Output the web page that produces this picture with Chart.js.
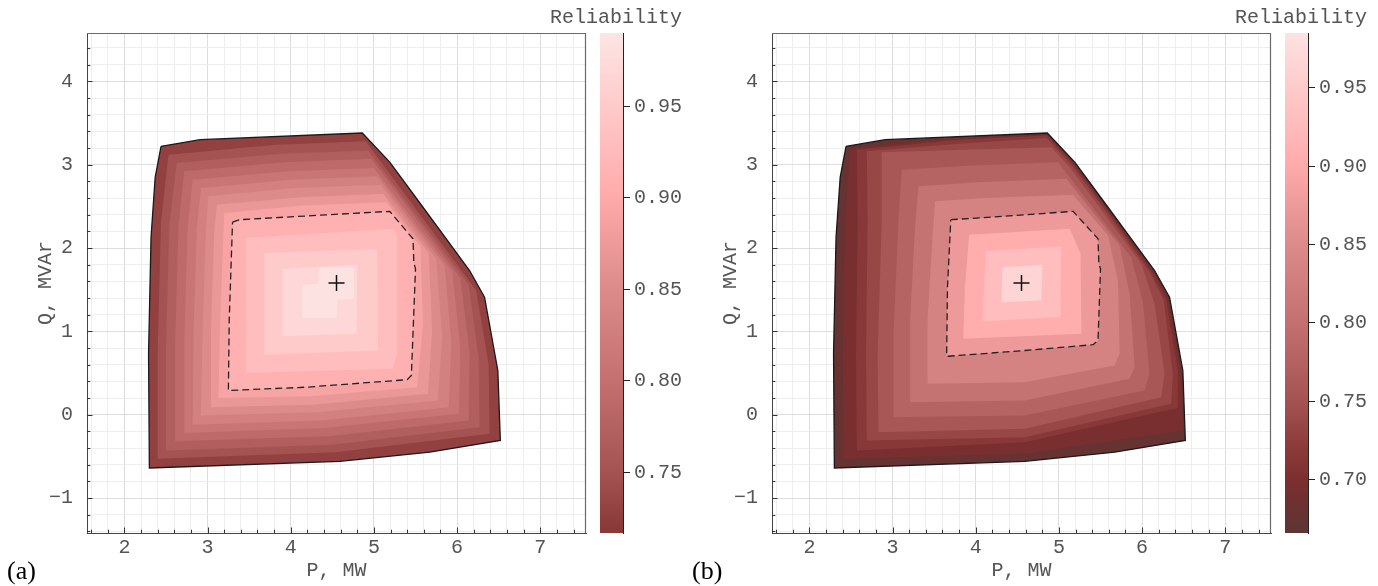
<!DOCTYPE html>
<html>
<head>
<meta charset="utf-8">
<script src="https://cdn.jsdelivr.net/npm/chart.js@4.4.1/dist/chart.umd.min.js"></script>
<style>
    html, body { margin: 0; padding: 0; background: #fff; }
    #wrap { position: relative; width: 1378px; height: 586px; overflow: hidden; }
    canvas { position: absolute; top: 0; }
</style>
</head>
<body>
<div id="wrap">
    <canvas id="mainA" width="596" height="586" style="left:0px"></canvas>
    <canvas id="barA" width="150" height="586" style="left:540px"></canvas>
    <canvas id="mainB" width="596" height="586" style="left:685px"></canvas>
    <canvas id="barB" width="150" height="586" style="left:1225px"></canvas>
</div>
<script>
// ---- data ----
var majorP = [2, 3, 4, 5, 6, 7];
var majorQ = [-1, 0, 1, 2, 3, 4];

var centerP = [4.55];
var centerQ = [1.58];

// feasible region (same in both panels)
var boundaryP = [2.44, 2.91, 4.86, 5.19, 5.53, 6.15, 6.33, 6.49, 6.52, 5.67, 4.59, 2.30, 2.29, 2.32, 2.37];
var boundaryQ = [3.22, 3.30, 3.38, 3.03, 2.57, 1.73, 1.41, 0.53, -0.31, -0.45, -0.56, -0.64, 0.73, 2.13, 2.85];

// (a) contour regions between boundary and dashed line
var outerBandsA_P = [
    [2.53, 3.83, 4.90, 6.23, 6.38, 6.39, 4.54, 2.40, 2.40, 2.44],
    [2.63, 3.88, 4.93, 6.14, 6.26, 6.27, 4.50, 2.51, 2.50, 2.54],
    [2.72, 3.92, 4.97, 6.04, 6.15, 6.14, 4.46, 2.61, 2.61, 2.65],
    [2.82, 3.96, 5.00, 5.94, 6.04, 6.02, 4.41, 2.72, 2.72, 2.76],
    [2.92, 4.01, 5.04, 5.85, 5.93, 5.90, 4.37, 2.82, 2.83, 2.87],
    [3.01, 4.05, 5.08, 5.75, 5.82, 5.77, 4.32, 2.92, 2.94, 2.98],
    [3.11, 4.10, 5.11, 5.66, 5.70, 5.65, 4.28, 3.03, 3.04, 3.08],
    [3.20, 4.14, 5.15, 5.56, 5.59, 5.52, 4.24, 3.13, 3.15, 3.19]
];
var outerBandsA_Q = [
    [3.12, 3.24, 3.28, 1.49, 0.60, -0.23, -0.45, -0.53, 0.78, 2.31],
    [3.02, 3.13, 3.17, 1.56, 0.67, -0.15, -0.36, -0.43, 0.82, 2.29],
    [2.92, 3.03, 3.07, 1.64, 0.74, -0.07, -0.26, -0.32, 0.86, 2.27],
    [2.82, 2.92, 2.96, 1.72, 0.80, 0.01, -0.16, -0.22, 0.91, 2.25],
    [2.72, 2.82, 2.86, 1.79, 0.87, 0.09, -0.07, -0.12, 0.95, 2.23],
    [2.62, 2.72, 2.76, 1.87, 0.94, 0.17, 0.03, -0.01, 1.00, 2.21],
    [2.52, 2.61, 2.65, 1.94, 1.01, 0.25, 0.12, 0.09, 1.04, 2.19],
    [2.42, 2.51, 2.55, 2.02, 1.08, 0.33, 0.22, 0.20, 1.08, 2.17]
];
var dashA_P = [3.30, 3.39, 5.19, 5.47, 5.48, 5.50, 5.45, 5.40, 4.19, 3.25, 3.26];
var dashA_Q = [2.31, 2.34, 2.44, 2.11, 1.82, 1.75, 0.47, 0.42, 0.33, 0.29, 1.13];
var innerBandsA_P = [
    [3.46, 5.23, 5.28, 5.28, 5.23, 3.46],
    [3.68, 5.04, 5.05, 3.68],
    [3.90, 4.80, 4.79, 3.90],
    [4.14, 4.33, 4.34, 4.76, 4.76, 4.56, 4.55, 4.14]
];
var innerBandsA_Q = [
    [2.12, 2.23, 2.17, 0.73, 0.55, 0.50],
    [1.94, 1.99, 0.77, 0.72],
    [1.75, 1.80, 0.97, 0.94],
    [1.56, 1.57, 1.76, 1.77, 1.39, 1.38, 1.16, 1.16]
];
var bandValuesA = [0.728, 0.75, 0.77, 0.79, 0.81, 0.83, 0.85, 0.87, 0.89, 0.91, 0.93, 0.95, 0.97, 0.985];
var cbTicksA = [0.75, 0.80, 0.85, 0.90, 0.95];
var cbRangeA = [0.717, 0.990];

// (b)
var outerBandsB_P = [
    [2.49, 3.79, 4.86, 5.18, 5.52, 6.14, 6.31, 6.46, 6.49, 4.59, 2.41, 2.40, 2.43],
    [2.57, 3.79, 4.86, 5.17, 5.51, 6.12, 6.29, 6.43, 6.43, 6.19, 4.59, 2.57, 2.56, 2.58],
    [2.69, 3.79, 4.85, 5.15, 5.49, 6.10, 6.26, 6.37, 6.35, 4.59, 2.69, 2.68, 2.70],
    [2.87, 3.87, 4.91, 5.13, 5.99, 6.15, 6.27, 6.23, 4.59, 2.83, 2.82, 2.87],
    [3.11, 3.95, 4.99, 5.87, 6.01, 6.09, 6.03, 4.59, 3.01, 3.01, 3.07],
    [3.31, 4.03, 5.09, 5.73, 5.85, 5.91, 5.85, 4.59, 3.21, 3.21, 3.27],
    [3.51, 4.11, 5.17, 5.59, 5.71, 5.73, 5.67, 4.59, 3.42, 3.42, 3.48]
];
var outerBandsB_Q = [
    [3.19, 3.32, 3.36, 3.02, 2.56, 1.72, 1.40, 0.53, -0.19, -0.47, -0.53, 0.73, 2.33],
    [3.18, 3.30, 3.35, 3.01, 2.55, 1.71, 1.38, 0.53, 0.08, 0.03, -0.33, -0.43, 0.73, 2.33],
    [3.16, 3.25, 3.32, 3.00, 2.54, 1.70, 1.37, 0.49, 0.13, -0.27, -0.31, 0.73, 2.33],
    [3.15, 3.18, 3.21, 2.97, 1.81, 1.33, 0.49, 0.21, -0.17, -0.21, 0.73, 2.33],
    [2.94, 2.99, 3.03, 1.89, 1.35, 0.49, 0.29, -0.01, -0.03, 0.93, 2.33],
    [2.74, 2.79, 2.83, 2.03, 1.45, 0.57, 0.43, 0.17, 0.15, 1.13, 2.25],
    [2.56, 2.60, 2.64, 2.15, 1.61, 0.73, 0.59, 0.39, 0.37, 1.13, 2.13]
];
var dashB_P = [3.70, 4.19, 5.17, 5.47, 5.48, 5.50, 5.47, 5.41, 4.59, 3.65, 3.66];
var dashB_Q = [2.34, 2.37, 2.44, 2.11, 1.81, 1.75, 0.89, 0.84, 0.77, 0.70, 1.53];
var innerBandsB_P = [
    [3.92, 5.13, 5.26, 5.27, 3.85, 3.87],
    [4.12, 5.03, 5.02, 4.08],
    [4.32, 4.80, 4.79, 4.31]
];
var innerBandsB_Q = [
    [2.16, 2.23, 1.93, 0.97, 0.91, 1.53],
    [1.96, 2.02, 1.17, 1.12],
    [1.77, 1.80, 1.37, 1.35]
];
var bandValuesB = [0.676, 0.696, 0.716, 0.736, 0.756, 0.778, 0.803, 0.835, 0.875, 0.905, 0.93, 0.965];
var cbTicksB = [0.70, 0.75, 0.80, 0.85, 0.90, 0.95];
var cbRangeB = [0.666, 0.985];

// colour map (reliability -> colour)
var cmapStops = [0.666, 0.685, 0.70, 0.72, 0.75, 0.80, 0.85, 0.90, 0.95, 0.99];
var cmapColors = ['#5d3535', '#6e3030', '#7d2f2f', '#8b3a3a', '#a45252', '#c47070', '#dc8a8a', '#ffaaaa', '#ffcaca', '#fde5e5'];

Chart.defaults.font.family = '"Liberation Mono", "DejaVu Sans Mono", monospace';
Chart.defaults.color = '#555';

function hexToRgb(h) {
    return [parseInt(h.slice(1, 3), 16), parseInt(h.slice(3, 5), 16), parseInt(h.slice(5, 7), 16)];
}

function cmap(v) {
    var s = cmapStops, c = cmapColors;
    if (v <= s[0]) return c[0];
    if (v >= s[s.length - 1]) return c[c.length - 1];
    var i = 0;
    while (v > s[i + 1]) i++;
    var t = (v - s[i]) / (s[i + 1] - s[i]);
    var a = hexToRgb(c[i]), b = hexToRgb(c[i + 1]);
    return 'rgb(' + a.map(function (x, j) { return Math.round(x + (b[j] - x) * t); }).join(',') + ')';
}

function pts(P, Q) {
    return P.map(function (p, i) { return { x: p, y: Q[i] }; });
}

function closed(P, Q) {
    var d = pts(P, Q);
    d.push(d[0]);
    return d;
}

function isMajor(v, majors) {
    return majors.some(function (m) { return Math.abs(m - v) < 1e-6; });
}

function majorLabel(v, majors) {
    if (!isMajor(v, majors)) return '';
    var r = Math.round(v);
    return r < 0 ? '\u2212' + (-r) : String(r);
}

// inward ticks, top/right frame and panel letter
var framePlugin = {
    id: 'frame',
    afterDraw: function (chart, args, opts) {
        var ctx = chart.ctx, a = chart.chartArea;
        var sx = chart.scales.x, sy = chart.scales.y;
        ctx.save();
        ctx.strokeStyle = '#6a6a6a';
        ctx.lineWidth = 1.2;
        ctx.beginPath();
        ctx.moveTo(a.left, a.top + 0.5);
        ctx.lineTo(a.right - 0.5, a.top + 0.5);
        ctx.lineTo(a.right - 0.5, a.bottom);
        ctx.stroke();

        ctx.strokeStyle = '#333';
        ctx.lineWidth = 1;
        ctx.beginPath();
        sx.ticks.forEach(function (t) {
            var px = Math.round(sx.getPixelForValue(t.value)) + 0.5;
            var len = isMajor(t.value, majorP) ? 5.5 : 3.3;
            ctx.moveTo(px, a.bottom);
            ctx.lineTo(px, a.bottom - len);
        });
        sy.ticks.forEach(function (t) {
            var py = Math.round(sy.getPixelForValue(t.value)) + 0.5;
            var len = isMajor(t.value, majorQ) ? 5.5 : 3.3;
            ctx.moveTo(a.left, py);
            ctx.lineTo(a.left + len, py);
        });
        ctx.stroke();

        ctx.fillStyle = '#000';
        ctx.font = '26px "Liberation Serif"';
        ctx.textAlign = 'left';
        ctx.textBaseline = 'alphabetic';
        ctx.fillText(opts.label, 7, 579);
        ctx.restore();
    }
};

var cbTitlePlugin = {
    id: 'cbTitle',
    afterDraw: function (chart) {
        var ctx = chart.ctx;
        ctx.save();
        ctx.font = '20px "Liberation Mono"';
        ctx.fillStyle = '#555';
        ctx.textAlign = 'right';
        ctx.textBaseline = 'alphabetic';
        ctx.fillText('Reliability', chart.chartArea.right + 59, 23);
        ctx.restore();
    }
};

function linearAxis(min, max, majors) {
    return {
        type: 'linear',
        min: min,
        max: max,
        afterBuildTicks: function (s) {
            var t = [];
            for (var i = Math.ceil(min * 5 - 1e-9); i <= Math.floor(max * 5 + 1e-9); i++) {
                t.push({ value: i / 5 });
            }
            s.ticks = t;
        },
        ticks: {
            autoSkip: false,
            maxRotation: 0,
            color: '#555',
            font: { size: 20 },
            callback: function (v) { return majorLabel(v, majors); }
        },
        grid: {
            drawTicks: false,
            lineWidth: 1,
            color: function (c) {
                return c.tick && isMajor(c.tick.value, majors) ? '#dddddd' : '#eeeeee';
            }
        },
        border: { display: true, color: '#444', width: 1 }
    };
}

function makeMain(id, label, polysP, polysQ, values, dashP, dashQ) {
    var datasets = [];
    for (var k = 0; k < polysP.length; k++) {
        datasets.push({
            data: pts(polysP[k], polysQ[k]),
            showLine: true,
            fill: 'shape',
            backgroundColor: cmap(values[k]),
            borderWidth: 0,
            pointRadius: 0,
            tension: 0,
            order: 100 - k
        });
    }
    datasets.push({
        data: closed(boundaryP, boundaryQ),
        showLine: true, fill: false, borderColor: '#1a1a1a', borderWidth: 1.3,
        pointRadius: 0, tension: 0, order: 3
    });
    datasets.push({
        data: closed(dashP, dashQ),
        showLine: true, fill: false, borderColor: '#222', borderWidth: 1.3, borderDash: [7, 4],
        pointRadius: 0, tension: 0, order: 2
    });
    datasets.push({
        data: pts(centerP, centerQ),
        showLine: false, pointStyle: 'cross', pointRadius: 8,
        borderColor: '#111', borderWidth: 1.5, order: 1
    });

    var xAxis = linearAxis(1.55, 7.55, majorP);
    xAxis.ticks.padding = 3;
    xAxis.title = { display: true, text: 'P, MW', color: '#555', font: { size: 20 }, padding: { top: 0, bottom: 3 } };
    xAxis.afterFit = function (s) { s.height = 53; };

    var yAxis = linearAxis(-1.42, 4.58, majorQ);
    yAxis.ticks.padding = 14;
    yAxis.title = { display: true, text: 'Q, MVAr', color: '#555', font: { size: 20 }, padding: { top: 34, bottom: 0 } };
    yAxis.afterFit = function (s) { s.width = 87; };

    return new Chart(document.getElementById(id), {
        type: 'scatter',
        data: { datasets: datasets },
        options: {
            responsive: false,
            animation: false,
            events: [],
            layout: { padding: { left: 0, right: 10, top: 33, bottom: 0 } },
            plugins: {
                legend: { display: false },
                tooltip: { enabled: false },
                frame: { label: label }
            },
            scales: { x: xAxis, y: yAxis }
        },
        plugins: [framePlugin]
    });
}

function barGradient(chart, lo, hi) {
    var y = chart.scales.y;
    if (!chart.chartArea || !y) return cmap((lo + hi) / 2);
    var g = chart.ctx.createLinearGradient(0, y.getPixelForValue(lo), 0, y.getPixelForValue(hi));
    g.addColorStop(0, cmap(lo));
    cmapStops.forEach(function (s) {
        if (s > lo && s < hi) g.addColorStop((s - lo) / (hi - lo), cmap(s));
    });
    g.addColorStop(1, cmap(hi));
    return g;
}

function makeBar(id, range, ticks) {
    var lo = range[0], hi = range[1];
    return new Chart(document.getElementById(id), {
        type: 'bar',
        data: {
            labels: ['r'],
            datasets: [{
                data: [[lo, hi]],
                backgroundColor: function (c) { return barGradient(c.chart, lo, hi); },
                borderWidth: 0,
                barPercentage: 1,
                categoryPercentage: 1
            }]
        },
        options: {
            responsive: false,
            animation: false,
            events: [],
            layout: { padding: { left: 60, right: 0, top: 33, bottom: 53 } },
            plugins: { legend: { display: false }, tooltip: { enabled: false } },
            scales: {
                x: { display: false },
                y: {
                    position: 'right',
                    min: lo,
                    max: hi,
                    afterBuildTicks: function (s) {
                        s.ticks = ticks.map(function (v) { return { value: v }; });
                    },
                    ticks: {
                        color: '#555',
                        padding: 4,
                        font: { size: 20 },
                        callback: function (v) { return v.toFixed(2); }
                    },
                    grid: { drawOnChartArea: false, drawTicks: true, tickLength: 7, color: '#222', lineWidth: 1 },
                    border: { display: true, color: '#222', width: 1 },
                    afterFit: function (s) { s.width = 67; }
                }
            }
        },
        plugins: [cbTitlePlugin]
    });
}

var polysA_P = [boundaryP].concat(outerBandsA_P, [dashA_P], innerBandsA_P);
var polysA_Q = [boundaryQ].concat(outerBandsA_Q, [dashA_Q], innerBandsA_Q);
var polysB_P = [boundaryP].concat(outerBandsB_P, [dashB_P], innerBandsB_P);
var polysB_Q = [boundaryQ].concat(outerBandsB_Q, [dashB_Q], innerBandsB_Q);

makeMain('mainA', '(a)', polysA_P, polysA_Q, bandValuesA, dashA_P, dashA_Q);
makeBar('barA', cbRangeA, cbTicksA);
makeMain('mainB', '(b)', polysB_P, polysB_Q, bandValuesB, dashB_P, dashB_Q);
makeBar('barB', cbRangeB, cbTicksB);
</script>
</body>
</html>
